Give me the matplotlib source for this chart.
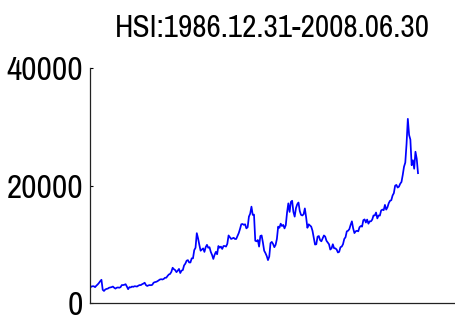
import matplotlib
matplotlib.use("Agg")
import matplotlib.pyplot as plt
import numpy as np

title = "HSI:1986.12.31-2008.06.30"

# Month-end closes of the Hang Seng Index, Dec 1986 .. Jun 2008
closes = [
    2568,
    2800, 2850, 2850, 2700, 2950, 3150, 3400, 3700, 3950, 2250, 2050, 2300,   # 1987
    2400, 2450, 2600, 2650, 2700, 2800, 2600, 2450, 2600, 2650, 2600, 2690,   # 1988
    3050, 3050, 3100, 3200, 2800, 2350, 2700, 2650, 2800, 2750, 2850, 2840,   # 1989
    2800, 2950, 3050, 3050, 3200, 3300, 3450, 3050, 2900, 3000, 3050, 3025,   # 1990
    3100, 3450, 3550, 3600, 3700, 3850, 4000, 4050, 4000, 4100, 4300, 4297,   # 1991
    4600, 4850, 4950, 5300, 6000, 5750, 5600, 5250, 5500, 5800, 5100, 5512,   # 1992
    5600, 6400, 6700, 7200, 7300, 6900, 6900, 7600, 7600, 9000, 9400, 11888,  # 1993
    11000, 9900, 8900, 9100, 9300, 8700, 9500, 9900, 9400, 9500, 8700, 8191,  # 1994
    7500, 8200, 8700, 8300, 9700, 9400, 9600, 9200, 9700, 9700, 9600, 10073,  # 1995
    11500, 11200, 10900, 11000, 11100, 10900, 10900, 11400, 11900, 12600, 13400, 13451,  # 1996
    13300, 13400, 12700, 12900, 14700, 15200, 16400, 15000, 15050, 10600, 10500, 10722,  # 1997
    9600, 11400, 11500, 10300, 8900, 8500, 8000, 7300, 7900, 10200, 10400, 10048,  # 1998
    9500, 9900, 10900, 13000, 12800, 13500, 13100, 13300, 12700, 13250, 15400, 16962,  # 1999
    15500, 17200, 17400, 15500, 14700, 16150, 16800, 17100, 15650, 15000, 14900, 15095,  # 2000
    16100, 14600, 12800, 13400, 13200, 13000, 12300, 11100, 9950, 10000, 11300, 11397,  # 2001
    10700, 10500, 11000, 11500, 11300, 10600, 10300, 10000, 9100, 9300, 10000, 9321,  # 2002
    9300, 9100, 8600, 8700, 9500, 9600, 10000, 10900, 11200, 12200, 12300, 12576,  # 2003
    13300, 13900, 12700, 11900, 12200, 12300, 12200, 12900, 13100, 13000, 14100, 14230,  # 2004
    13700, 14200, 13500, 13900, 13900, 14200, 14900, 14900, 15400, 14400, 14900, 14876,  # 2005
    15750, 15900, 15800, 16700, 15900, 16300, 17000, 17400, 17500, 18300, 18700, 19965,  # 2006
    20100, 19650, 19800, 20300, 20600, 21800, 23200, 23900, 27100, 31350, 28600, 27813,  # 2007
    23450, 24300, 22850, 25750, 24550, 22100,                                    # 2008
]

yticks = [0, 20000, 40000]
ytick_labels = ["0", "20000", "40000"]

font = ["Archivo Narrow", "Liberation Sans", "DejaVu Sans"]
plt.rcParams["font.family"] = font

fig = plt.figure(figsize=(4.56, 3.24), dpi=100)
ax = fig.add_axes([90 / 456, 21 / 324, 365 / 456, 235 / 324])

x = np.arange(len(closes))
ax.plot(x, closes, color="#0000ff", linewidth=1.25)

ax.set_xlim(0, (len(closes) - 1) * 365 / 328)
ax.set_ylim(0, 40000)
ax.set_yticks(yticks)
ax.set_yticklabels(ytick_labels)
ax.set_xticks([])
ax.tick_params(axis="y", direction="in", length=2.5, width=0.8, pad=5,
               labelsize=24, colors="black")
for side in ("top", "right"):
    ax.spines[side].set_visible(False)
for side in ("left", "bottom"):
    ax.spines[side].set_linewidth(0.9)
    ax.spines[side].set_color("#222222")

fig.text(272 / 456, 1 - 28 / 324, title, ha="center", va="center", fontsize=22.5)

fig.savefig("out.png", dpi=100)
